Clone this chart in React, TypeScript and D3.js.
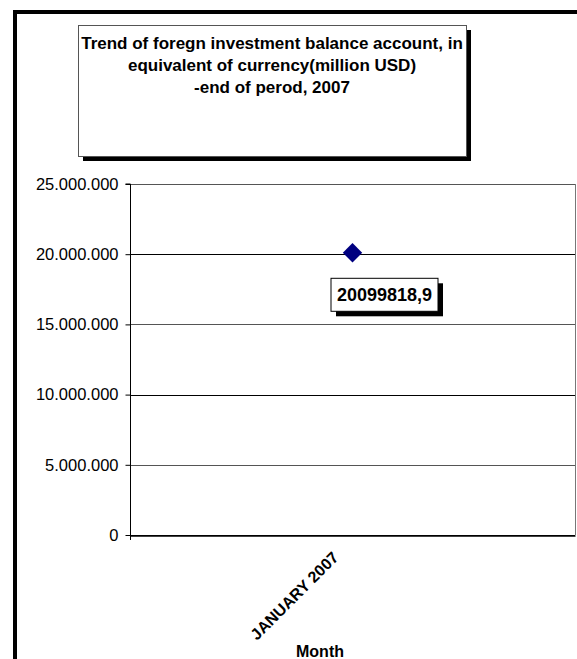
//@ts-nocheck
import * as d3 from "d3";
import { useEffect, useRef } from "react";

const months = ["JANUARY 2007"];
const balances = [20099818.9];
const yTicks = [0, 5000000, 10000000, 15000000, 20000000, 25000000];
const titleLines = [
  "Trend of foregn investment balance account, in",
  "equivalent of currency(million USD)",
  "-end of perod, 2007",
];

const W = 577;
const H = 659;
const font = "'Liberation Sans', Arial, sans-serif";

const App = () => {
  const ref = useRef(null);

  useEffect(() => {
    const svg = d3.select(ref.current);
    svg.selectAll("*").remove();

    const plot = { left: 130, right: 575, top: 184, bottom: 535 };

    const x = d3.scaleBand().domain(months).range([plot.left, plot.right]);
    const y = d3.scaleLinear().domain([0, 25000000]).range([plot.bottom, plot.top]);

    svg.append("rect").attr("width", W).attr("height", H).attr("fill", "#fff");

    // outer chart frame (runs off the page right/bottom)
    svg.append("rect")
      .attr("x", 15).attr("y", 12)
      .attr("width", W + 40).attr("height", H + 40)
      .attr("fill", "none").attr("stroke", "#000").attr("stroke-width", 4);

    // title box with shadow
    const tb = { x: 78, y: 25, w: 388, h: 131 };
    svg.append("rect")
      .attr("x", tb.x + 5).attr("y", tb.y + 5).attr("width", tb.w).attr("height", tb.h)
      .attr("fill", "#000");
    svg.append("rect")
      .attr("x", tb.x + 0.5).attr("y", tb.y + 0.5).attr("width", tb.w).attr("height", tb.h)
      .attr("fill", "#fff").attr("stroke", "#555").attr("stroke-width", 1);
    svg.append("g")
      .selectAll("text")
      .data(titleLines)
      .enter()
      .append("text")
      .attr("x", tb.x + tb.w / 2)
      .attr("y", (d, i) => 49 + i * 22)
      .attr("text-anchor", "middle")
      .style("font-family", font)
      .style("font-weight", "bold")
      .style("font-size", "17px")
      .text(d => d);

    // gridlines
    svg.append("g")
      .selectAll("line")
      .data(yTicks)
      .enter()
      .append("line")
      .attr("x1", plot.left).attr("x2", plot.right)
      .attr("y1", d => Math.round(y(d)) + 0.5).attr("y2", d => Math.round(y(d)) + 0.5)
      .attr("stroke", (d, i) => (i % 2 ? "#555" : "#000"))
      .attr("stroke-width", 1);

    // plot right border
    svg.append("line")
      .attr("x1", plot.right + 0.5).attr("x2", plot.right + 0.5)
      .attr("y1", plot.top).attr("y2", plot.bottom)
      .attr("stroke", "#777");

    // y axis
    const yAxis = svg.append("g")
      .attr("transform", `translate(${plot.left + 0.5},0)`)
      .call(
        d3.axisLeft(y)
          .tickValues(yTicks)
          .tickSize(5)
          .tickPadding(7)
          .tickFormat(d => d3.format(",")(d).replace(/,/g, "."))
      );
    yAxis.select(".domain").attr("stroke", "#000").attr("d", `M-5,${plot.top}H0V${plot.bottom + 5}`);
    yAxis.selectAll("text")
      .style("font-family", font)
      .style("font-size", "16.5px")
      .attr("fill", "#000");

    // x axis
    const xAxis = svg.append("g")
      .attr("transform", `translate(0,${plot.bottom + 0.5})`)
      .call(d3.axisBottom(x).tickSize(0).tickPadding(0));
    xAxis.select(".domain").attr("stroke", "#000").attr("stroke-width", 1.5);
    xAxis.selectAll("text")
      .attr("text-anchor", "end")
      .attr("dy", 0)
      .attr("y", 0)
      .attr("transform", "translate(-13,23) rotate(-45)")
      .style("font-family", font)
      .style("font-size", "16px")
      .style("font-weight", "bold")
      .attr("fill", "#000");

    svg.append("text")
      .attr("x", 320)
      .attr("y", 657)
      .attr("text-anchor", "middle")
      .style("font-family", font)
      .style("font-weight", "bold")
      .style("font-size", "16px")
      .text("Month");

    // data points
    const pts = months.map((m, i) => ({ m, v: balances[i] }));
    svg.append("g")
      .selectAll("path")
      .data(pts)
      .enter()
      .append("path")
      .attr("d", d3.symbol().type(d3.symbolDiamond2).size(240))
      .attr("transform", d => `translate(${x(d.m) + x.bandwidth() / 2},${y(d.v)})`)
      .attr("fill", "#000080");

    // data labels
    const lab = svg.append("g")
      .selectAll("g")
      .data(pts)
      .enter()
      .append("g")
      .attr("transform", d => `translate(${x(d.m) + x.bandwidth() / 2 + 32},${y(d.v) + 42})`);
    const lw = 107, lh = 33;
    lab.append("rect")
      .attr("x", -lw / 2 + 5).attr("y", -lh / 2 + 5).attr("width", lw).attr("height", lh)
      .attr("fill", "#000");
    lab.append("rect")
      .attr("x", -lw / 2).attr("y", -lh / 2).attr("width", lw).attr("height", lh)
      .attr("fill", "#fff").attr("stroke", "#000").attr("stroke-width", 1);
    lab.append("text")
      .attr("text-anchor", "middle")
      .attr("dy", "0.36em")
      .style("font-family", font)
      .style("font-weight", "bold")
      .style("font-size", "18px")
      .text(d => d3.format(".1f")(d.v).replace(".", ","));
  }, []);

  return (
    <svg
      ref={ref}
      width={W}
      height={H}
      style={{ position: "absolute", left: 0, top: 0, display: "block" }}
    ></svg>
  );
};

export default App;
